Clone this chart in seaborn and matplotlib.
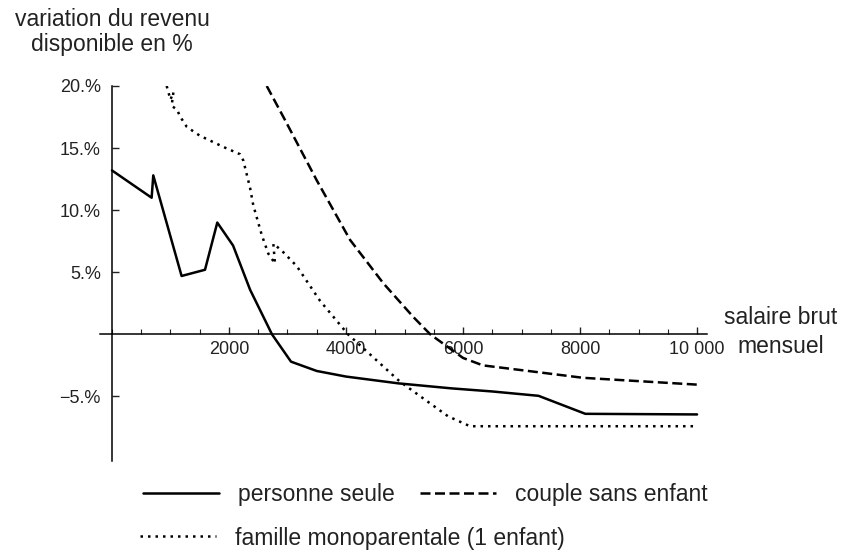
import pandas as pd
import seaborn as sns
import matplotlib.pyplot as plt
from matplotlib.ticker import FixedLocator, MultipleLocator

# valeurs : salaire brut mensuel (euros) -> variation du revenu disponible (%)
seule_x = [0, 678, 706, 1190, 1590, 1800, 2070, 2360, 2735, 3060, 3500, 4000, 4900, 5800, 6500, 7290, 8090, 10000]
seule_y = [13.2, 11.0, 12.8, 4.7, 5.2, 9.0, 7.15, 3.6, 0.0, -2.2, -2.95, -3.4, -3.95, -4.35, -4.6, -4.95, -6.4, -6.45]

couple_x = [2645, 2930, 3500, 4070, 4640, 5150, 5440, 6000, 6340, 7200, 8050, 10000]
couple_y = [20.0, 17.5, 12.4, 7.6, 4.1, 1.4, 0.0, -1.9, -2.5, -3.0, -3.5, -4.05]

mono_x = [935, 1000, 1050, 1020, 1110, 1170, 1280, 1500, 1900, 2190, 2245, 2360, 2415, 2560, 2672,
          2786, 2758, 2900, 3157, 3556, 4035, 4920, 5744, 6120, 10000]
mono_y = [20.0, 18.9, 19.5, 18.4, 18.1, 17.5, 16.7, 16.0, 15.1, 14.5, 14.0, 11.8, 10.4, 8.0, 6.5,
          5.7, 7.3, 6.75, 5.5, 2.7, 0.0, -3.8, -6.6, -7.4, -7.4]

series_labels = ['personne seule', 'couple sans enfant', 'famille monoparentale (1 enfant)']
x_ticks = [2000, 4000, 6000, 8000, 10000]
x_ticklabels = ['2000', '4000', '6000', '8000', '10 000']
y_ticks = [-5, 5, 10, 15, 20]
y_ticklabels = ['\u22125.%', '5.%', '10.%', '15.%', '20.%']

sns.set_style('white')
plt.rcParams['font.family'] = ['Liberation Sans', 'DejaVu Sans']
plt.rcParams['text.color'] = '#222222'
plt.rcParams['xtick.color'] = '#222222'
plt.rcParams['ytick.color'] = '#222222'

fig = plt.figure(figsize=(8.44, 5.59), dpi=100)
ax = fig.add_axes([0.1181, 0.1753, 0.7196, 0.6709])

lw = 1.8
sns.lineplot(x=seule_x, y=seule_y, sort=False, estimator=None, color='black',
             lw=lw, ax=ax, label=series_labels[0])
sns.lineplot(x=couple_x, y=couple_y, sort=False, estimator=None, color='black',
             lw=lw, linestyle=(0, (4, 1.8)), ax=ax, label=series_labels[1])
sns.lineplot(x=mono_x, y=mono_y, sort=False, estimator=None, color='black',
             lw=lw, linestyle=(0, (1, 2)), ax=ax, label=series_labels[2])
if ax.get_legend() is not None:
    ax.get_legend().remove()

ax.set_xlim(-210, 10170)
ax.set_ylim(-10.2, 20.0)
ax.spines['left'].set_position(('data', 0))
ax.spines['bottom'].set_position(('data', 0))
for side in ['top', 'right']:
    ax.spines[side].set_visible(False)
for side in ['left', 'bottom']:
    ax.spines[side].set_color('black')
    ax.spines[side].set_linewidth(1.1)

ax.xaxis.set_major_locator(FixedLocator(x_ticks))
ax.xaxis.set_minor_locator(MultipleLocator(500))
ax.set_xticklabels(x_ticklabels)
ax.yaxis.set_major_locator(FixedLocator(y_ticks))
ax.set_yticklabels(y_ticklabels)
ax.tick_params(axis='x', which='major', direction='in', length=5, width=1, pad=4.5,
               labelsize=13, bottom=True)
ax.tick_params(axis='x', which='minor', direction='in', length=3.5, width=0.8, bottom=True)
ax.tick_params(axis='y', which='major', direction='in', length=5, width=1, pad=8,
               labelsize=13, left=True)
ax.set_xlabel('')
ax.set_ylabel('')

fig.text(781 / 844, 1 - 332 / 559, 'salaire brut\nmensuel', ha='center', va='center',
         fontsize=16.5, linespacing=1.35)
fig.text(112 / 844, 1 - 32 / 559, 'variation du revenu\ndisponible en %', ha='center',
         va='center', fontsize=16.5, linespacing=1.1)

lines = ax.get_lines()
fig.legend([lines[0], lines[1]], series_labels[:2], ncol=2, loc='center left',
           bbox_to_anchor=(143 / 844, 1 - 495 / 559), frameon=False, fontsize=16.5,
           handlelength=3.3, handletextpad=0.85, columnspacing=1.1,
           borderpad=0, borderaxespad=0)
fig.legend([lines[2]], series_labels[2:], loc='center left',
           bbox_to_anchor=(140 / 844, 1 - 538 / 559), frameon=False, fontsize=16.5,
           handlelength=3.3, handletextpad=0.85, borderpad=0, borderaxespad=0)

fig.savefig('out.png', dpi=100)
